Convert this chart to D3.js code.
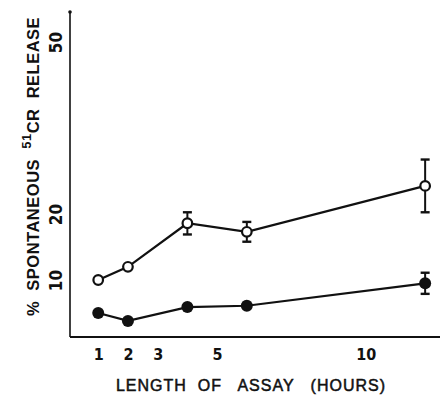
<!DOCTYPE html>
<html>
<head>
<meta charset="utf-8">
<script src="https://cdn.jsdelivr.net/npm/d3@7"></script>
<style>
  body { margin: 0; background: #fff; }
  text { fill: #111; white-space: pre; }
</style>
</head>
<body>
<div id="chart"></div>
<script>
// assay length in hours
var hours = [1, 2, 4, 6, 12];
// open circles and their error bars
var openVals = [10, 12, 18.6, 17.3, 24.9];
var openErr = [0, 0, 1.7, 1.5, 4.6];
// filled circles
var filledVals = [5.0, 3.8, 5.9, 6.1, 9.5];
var filledErr = [0, 0, 0, 0, 1.6];

var xTicks = [1, 2, 3, 5, 10];
var yTicks = [10, 20, 50];

var width = 444;
var height = 403;
var svg = d3.select('#chart').append('svg')
  .attr('width', width)
  .attr('height', height);

// the hand drawn y axis is not evenly spaced, so piecewise
var x = d3.scaleLinear().domain([0, 12.5]).range([68.5, 440]);
var y = d3.scaleLinear().domain([0, 10, 20, 50]).range([346, 280, 214, 42]);

var axisX = 70, axisY = 337;

// axis lines
svg.append('line')
  .attr('x1', axisX).attr('x2', axisX)
  .attr('y1', axisY).attr('y2', 12)
  .style('stroke', '#111').style('stroke-width', 1.6);
svg.append('line')
  .attr('x1', axisX).attr('x2', 440)
  .attr('y1', axisY).attr('y2', axisY)
  .style('stroke', '#111').style('stroke-width', 1.8);
svg.append('circle').attr('cx', axisX).attr('cy', 12).attr('r', 1.8).style('fill', '#111');

// x ticks
var gx = svg.append('g')
  .attr('transform', 'translate(0,' + axisY + ')')
  .call(d3.axisBottom(x).tickValues(xTicks).tickSize(0).tickPadding(12).tickFormat(d3.format('d')));
gx.select('.domain').remove();
gx.selectAll('text')
  .style('font-family', '"Liberation Sans Narrow", "DejaVu Sans Condensed", sans-serif')
  .style('font-weight', 'bold')
  .style('font-size', '16px')
  .style('fill', '#111');

// y ticks, written sideways
var gy = svg.append('g')
  .attr('transform', 'translate(' + axisX + ',0)')
  .call(d3.axisLeft(y).tickValues(yTicks).tickSize(0));
gy.select('.domain').remove();
gy.selectAll('text')
  .attr('x', 0).attr('dy', 0)
  .attr('transform', 'translate(-8,0) rotate(-90)')
  .attr('text-anchor', 'middle')
  .style('font-family', '"Liberation Sans Narrow", "DejaVu Sans Condensed", sans-serif')
  .style('font-weight', 'bold')
  .style('font-size', '17px')
  .style('fill', '#111');

// titles
var yt = svg.append('text')
  .attr('transform', 'translate(39,316) rotate(-90)')
  .attr('text-anchor', 'start')
  .style('font-family', '"Liberation Sans", sans-serif')
  .style('font-weight', 'bold')
  .style('font-size', '16.5px')
  .style('letter-spacing', '0.5px');
yt.append('tspan').text('%  SPONTANEOUS  ');
yt.append('tspan').attr('dy', -8).style('font-size', '13px').text('51');
yt.append('tspan').attr('dy', 8).text('CR  RELEASE');

svg.append('text')
  .attr('x', 251).attr('y', 391)
  .attr('text-anchor', 'middle')
  .style('font-family', '"Liberation Sans", sans-serif')
  .style('font-size', '16px')
  .style('letter-spacing', '1px')
  .style('stroke', '#111').style('stroke-width', 0.5)
  .text('LENGTH  OF   ASSAY   (HOURS)');

function drawSeries(vals, errs, filled) {
  var pts = hours.map(function (h, i) { return { h: h, v: vals[i], e: errs[i] }; });
  var line = d3.line().x(function (d) { return x(d.h); }).y(function (d) { return y(d.v); });
  svg.append('path').datum(pts)
    .attr('d', line)
    .style('fill', 'none').style('stroke', '#111').style('stroke-width', 2.2);

  var bars = pts.filter(function (d) { return d.e > 0; });
  var eb = svg.append('g').selectAll('g').data(bars).enter().append('g');
  eb.append('line')
    .attr('x1', function (d) { return x(d.h); }).attr('x2', function (d) { return x(d.h); })
    .attr('y1', function (d) { return y(d.v + d.e); }).attr('y2', function (d) { return y(d.v - d.e); })
    .style('stroke', '#111').style('stroke-width', 2);
  [1, -1].forEach(function (s) {
    eb.append('line')
      .attr('x1', function (d) { return x(d.h) - 4.5; }).attr('x2', function (d) { return x(d.h) + 4.5; })
      .attr('y1', function (d) { return y(d.v + s * d.e); }).attr('y2', function (d) { return y(d.v + s * d.e); })
      .style('stroke', '#111').style('stroke-width', 2.4);
  });

  svg.append('g').selectAll('circle').data(pts).enter().append('circle')
    .attr('cx', function (d) { return x(d.h); })
    .attr('cy', function (d) { return y(d.v); })
    .attr('r', filled ? 6 : 4.8)
    .style('fill', filled ? '#111' : '#fff')
    .style('stroke', '#111')
    .style('stroke-width', filled ? 0 : 2.2);
}

drawSeries(openVals, openErr, false);
drawSeries(filledVals, filledErr, true);
</script>
</body>
</html>
